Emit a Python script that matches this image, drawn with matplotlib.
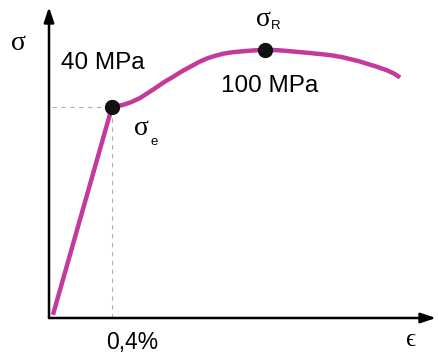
import matplotlib.pyplot as plt

# schematic stress-strain curve (strain in %, stress in arbitrary schematic units)
strain = [0.025, 0.4, 0.43, 0.47, 0.52, 0.578, 0.63, 0.686, 0.735, 0.787, 0.84, 0.895,
          0.95, 1.003, 1.055, 1.105, 1.17, 1.244, 1.31, 1.371, 1.43, 1.48, 1.54,
          1.594, 1.65, 1.70, 1.75, 1.803, 1.86, 1.91, 1.965, 2.019, 2.08, 2.146,
          2.19, 2.229]
stress = [0.6, 40.0, 40.15, 40.4, 40.9, 41.7, 42.7, 43.8, 44.8, 45.7, 46.7, 47.6,
          48.5, 49.2, 49.7, 50.1, 50.4, 50.6, 50.75, 50.8, 50.8, 50.7, 50.55,
          50.4, 50.25, 50.1, 49.95, 49.75, 49.45, 49.1, 48.7, 48.2, 47.65, 46.95,
          46.35, 45.6]

yield_pt = (0.4, 40.0)
uts_pt = (1.371, 50.8)

curve_color = "#c43a9c"

fig = plt.figure(figsize=(4.39, 3.58), dpi=100)
W, H = 439, 358
x0, y0, x1, y1 = 49, 318, 436, 7
ax = fig.add_axes([x0 / W, (H - y0) / H, (x1 - x0) / W, (y0 - y1) / H])
ax.set_xlim(0, (x1 - x0) / 157.5)
ax.set_ylim(0, (y0 - y1) / 5.275)
ax.axis("off")

# axes with arrow heads
arrow = dict(arrowstyle="-|>,head_length=0.9,head_width=0.3", color="black", lw=1.8,
             shrinkA=0, shrinkB=0)
ax.annotate("", xy=(0, 1), xytext=(0, 0), xycoords="axes fraction", arrowprops=arrow)
ax.annotate("", xy=(1, 0), xytext=(0, 0), xycoords="axes fraction", arrowprops=arrow)

# dashed guide lines
ax.plot([0.02, 0.36], [yield_pt[1], yield_pt[1]], color="#b0b0b0", lw=0.8, ls=(0, (4, 4)))
ax.plot([yield_pt[0], yield_pt[0]], [0, yield_pt[1] - 2], color="#b0b0b0", lw=0.8, ls=(0, (4, 4)))

ax.plot(strain, stress, color=curve_color, lw=3.2, solid_capstyle="butt",
        solid_joinstyle="round", clip_on=False)
ax.plot(*yield_pt, "o", color="#111111", ms=10, clip_on=False)
ax.plot(*uts_pt, "o", color="#111111", ms=10, clip_on=False)

serif = "Liberation Serif"
sans = "Liberation Sans"

def px(x, y):
    return x / W, 1 - y / H

fig.text(*px(18, 43), "σ", family=serif, fontsize=20, ha="center", va="center")
fig.text(*px(61, 63), "40 MPa", family=sans, fontsize=17.5, ha="left", va="center")
fig.text(*px(141, 128), "σ", family=serif, fontsize=20, ha="center", va="center")
fig.text(*px(154, 142), "e", family=sans, fontsize=9.5, ha="center", va="center")
fig.text(*px(263, 20), "σ", family=serif, fontsize=20, ha="center", va="center")
fig.text(*px(276, 26), "R", family=sans, fontsize=9.5, ha="center", va="center")
fig.text(*px(221, 86), "100 MPa", family=sans, fontsize=17.5, ha="left", va="center")
fig.text(*px(106, 342), "0,4%", family=sans, fontsize=16.5, ha="left", va="center")
fig.text(*px(411, 340), "ϵ", family=serif, fontsize=18, ha="center", va="center")

fig.savefig("out.png", dpi=100)
